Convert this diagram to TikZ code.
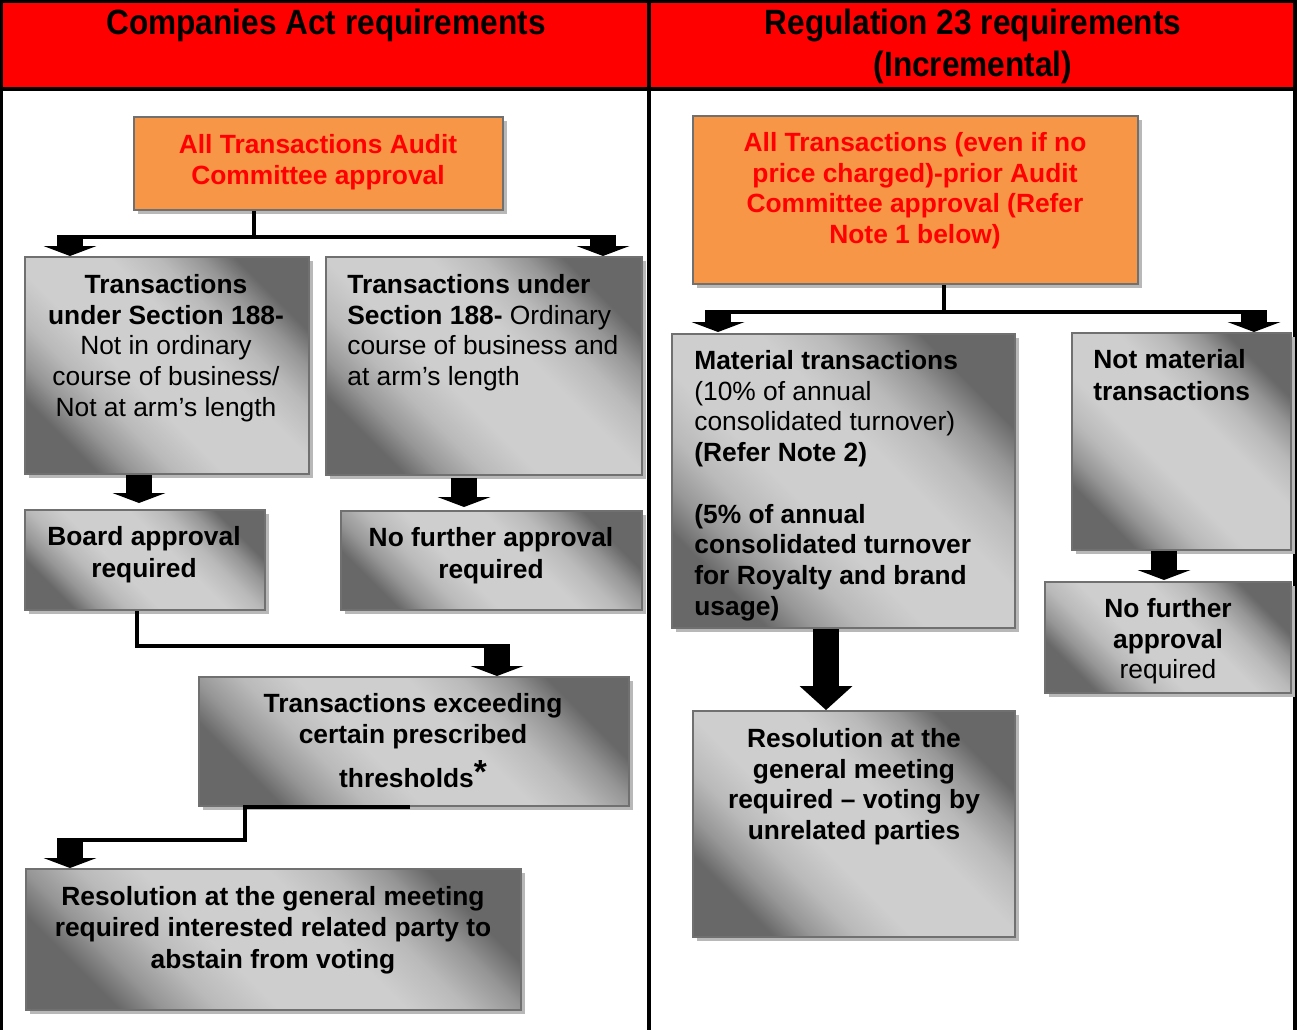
\documentclass[tikz,border=0pt]{standalone}
\usepackage{fontspec}
\setmainfont{Liberation Sans}
\newfontfamily\headfont[FakeStretch=0.9]{Liberation Sans}
\usepackage{tikz}
\usetikzlibrary{positioning,calc,fit,shadows}
\usetikzlibrary{arrows.meta}
\definecolor{HeadRed}{RGB}{255,0,0}
\definecolor{BoxOrange}{RGB}{247,150,70}
\definecolor{BoxEdge}{RGB}{112,112,112}
\definecolor{GreyDark}{RGB}{104,104,104}
\definecolor{GreyLight}{RGB}{206,206,206}
\definecolor{ShadowGrey}{RGB}{184,184,184}
\pgfdeclareverticalshading{greyband}{100bp}{color(0bp)=(GreyDark); color(25bp)=(GreyDark); color(30bp)=(GreyLight!45!GreyDark); color(36bp)=(GreyLight!80!GreyDark); color(43bp)=(GreyLight); color(57bp)=(GreyLight); color(64bp)=(GreyLight!80!GreyDark); color(70bp)=(GreyLight!45!GreyDark); color(75bp)=(GreyDark); color(100bp)=(GreyDark)}
\tikzset{frame/.style={line width=0.08cm},
  basebox/.style={inner sep=0pt,draw=BoxEdge,line width=0.04cm,drop shadow={shadow xshift=0.08cm,shadow yshift=-0.08cm,fill=ShadowGrey,opacity=1}},
  greybox/.style={basebox,shading=greyband,shading angle=-45},
  orangebox/.style={basebox,fill=BoxOrange},
  txt/.style={inner sep=0pt,font=\fontsize{15}{17.5}\selectfont,align=center},
  redtxt/.style={txt,text=HeadRed,font=\fontsize{15}{17.5}\selectfont\bfseries},
  head/.style={inner sep=0pt,align=center,font=\headfont\fontsize{20}{23.8}\selectfont\bfseries},
  conn/.style={line width=0.08cm},
  fatarrow/.style={line width=0.52cm,-{Triangle[width=1.06cm,length=#1,line width=0pt]}},
  fatarrow/.default=0.2cm}

\begin{document}
\begin{tikzpicture}[x=0.02cm,y=-0.02cm]
\useasboundingbox (0,0) rectangle (1297,1030);
% header band and table rules
\fill[HeadRed] (2,2) rectangle (1295,89);
\draw[frame] (1.5,0) -- (1.5,1030);
\draw[frame] (1295,0) -- (1295,1030);
\draw[frame] (649,0) -- (649,1030);
\draw[frame] (0,1.5) -- (1297,1.5);
\draw[frame] (0,89.5) -- (1297,89.5);
\node[head,anchor=north] (hleft) at (326,9) {Companies Act requirements};
\node[head,anchor=north] (hright) at (973,9) {Regulation 23 requirements\\(Incremental)};

% left column boxes
\node[orangebox,fit={(134,117) (503,210)}] (a1) {};
\node[greybox,fit={(25,257) (309,474)}] (b1) {};
\node[greybox,fit={(326,257) (642,475)}] (b2) {};
\node[greybox,fit={(25,510) (265,610)}] (c1) {};
\node[greybox,fit={(341,511) (642,610)}] (c2) {};
\node[greybox,fit={(199,677) (629,806)}] (d1) {};
\node[greybox,fit={(26,869) (521,1010)}] (e1) {};

% right column boxes
\node[orangebox,fit={(693,116) (1138,284)}] (f1) {};
\node[greybox,fit={(672,334) (1015,628)}] (g1) {};
\node[greybox,fit={(1072,333) (1291,550)}] (h1) {};
\node[greybox,fit={(1045,582) (1291,693)}] (i1) {};
\node[greybox,fit={(693,711) (1015,937)}] (j1) {};

% box texts
\node[redtxt,anchor=north] (a1t) at (318,134) {All Transactions Audit\\Committee approval};
\node[txt,anchor=north] (b1t) at (166,274) {\textbf{Transactions}\\\textbf{under Section 188-}\\Not in ordinary\\course of business/\\Not at arm’s length};
\node[txt,anchor=north west,align=left] (b2t) at (347,274) {\textbf{Transactions under}\\\textbf{Section 188-} Ordinary\\course of business and\\at arm’s length};
\node[txt,anchor=north,font=\fontsize{15}{18.2}\selectfont\bfseries] (c1t) at (144,526) {Board approval\\required};
\node[txt,anchor=north,font=\fontsize{15}{18.2}\selectfont\bfseries] (c2t) at (491,527) {No further approval\\required};
\node[txt,anchor=north,font=\fontsize{15}{17.5}\selectfont\bfseries] (d1t) at (413,693) {Transactions exceeding\\certain prescribed\\[5.7pt]thresholds{\fontsize{19}{19}\selectfont\raisebox{2.5pt}{*}}};
\node[txt,anchor=north,font=\fontsize{15}{17.9}\selectfont\bfseries] (e1t) at (273,886) {Resolution at the general meeting\\required interested related party to\\abstain from voting};
\node[redtxt,anchor=north] (f1t) at (915,132) {All Transactions (even if no\\price charged)-prior Audit\\Committee approval (Refer\\Note 1 below)};
\node[txt,anchor=north west,align=left] (g1t) at (694,350) {\textbf{Material transactions}\\(10\% of annual\\consolidated turnover)\\\textbf{(Refer Note 2)}\\[17.5pt]\textbf{(5\% of annual}\\\textbf{consolidated turnover}\\\textbf{for Royalty and brand}\\\textbf{usage)}};
\node[txt,anchor=north west,align=left,font=\fontsize{15}{18.2}\selectfont\bfseries] (h1t) at (1093,349) {Not material\\transactions};
\node[txt,anchor=north] (i1t) at (1168,598) {\textbf{No further}\\\textbf{approval}\\required};
\node[txt,anchor=north,font=\fontsize{15}{17.5}\selectfont\bfseries] (j1t) at (854,728) {Resolution at the\\general meeting\\required -- voting by\\unrelated parties};

% connectors, left column
\coordinate (tl) at (70,237);
\coordinate (tr) at (603,237);
\coordinate (xc1) at (139,0);
\coordinate (xc2) at (464,0);
\coordinate (k1) at (137,646);
\coordinate (k2) at (497,646);
\coordinate (m0) at (410,0);
\coordinate (m1) at (245,0);
\coordinate (m2) at (245,840);
\coordinate (m3) at (70,840);
\draw[conn] (a1.south -| 254,0) -- (tl -| 254,0);
\draw[conn] (tl) -- (tr);
\draw[fatarrow] ($(tl)+(0,-2)$) -- (b1.north -| tl);
\draw[fatarrow] ($(tr)+(0,-2)$) -- (b2.north -| tr);
\draw[fatarrow] (b1.south -| xc1) -- ($(c1.north -| xc1)+(0,-6)$);
\draw[fatarrow] ($(b2.south -| xc2)+(0,2)$) -- ($(c2.north -| xc2)+(0,-3)$);
\draw[conn] (c1.south -| k1) -- (k1) -- (k2);
\draw[fatarrow] ($(k2)+(0,-2)$) -- (d1.north -| k2);
\draw[conn] (d1.south -| m0) -- (d1.south -| m1) -- (m2) -- (m3);
\draw[fatarrow] ($(m3)+(0,-2)$) -- (e1.north -| m3);

% connectors, right column
\coordinate (n0) at (944,312);
\coordinate (nl) at (718,312);
\coordinate (nr) at (1254,312);
\coordinate (xg) at (826,0);
\coordinate (xh) at (1164,0);
\draw[conn] (f1.south -| n0) -- (n0);
\draw[conn] (nl) -- (nr);
\draw[fatarrow] ($(nl)+(0,-2)$) -- ($(g1.north -| nl)+(0,-1)$);
\draw[fatarrow] ($(nr)+(0,-2)$) -- (h1.north -| nr);
\draw[fatarrow=0.48cm] (g1.south -| xg) -- (j1.north -| xg);
\draw[fatarrow] (h1.south -| xh) -- ($(i1.north -| xh)+(0,-1)$);
\end{tikzpicture}
\end{document}
